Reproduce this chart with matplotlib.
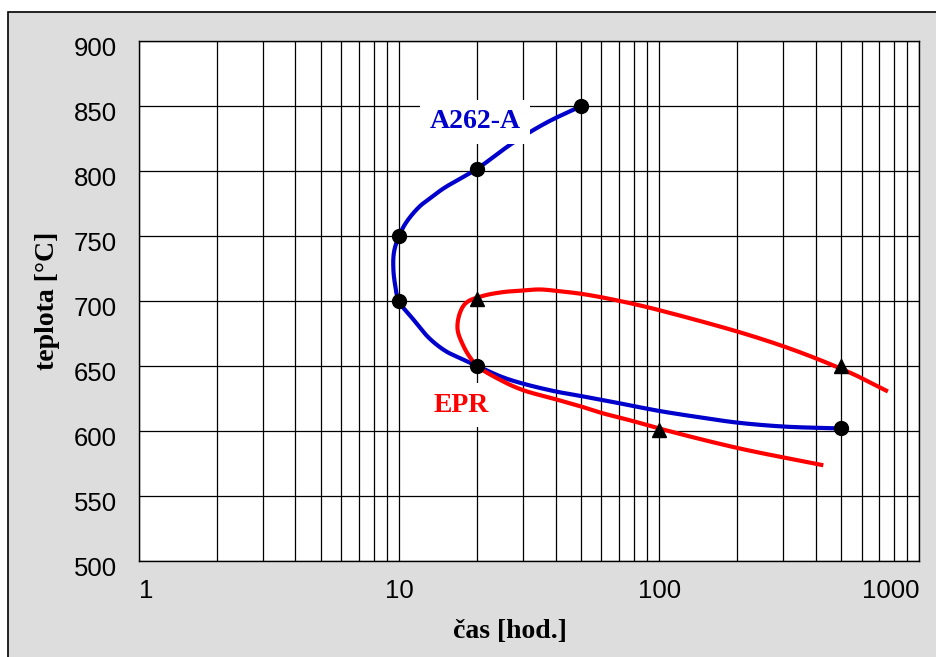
import matplotlib
matplotlib.use("Agg")
import matplotlib.pyplot as plt
import matplotlib.transforms as mtransforms
from matplotlib.patches import Rectangle
from matplotlib.ticker import LogLocator, FixedLocator, NullFormatter
import numpy as np

# body curves (time in hours, temperature in C)
blue_t = [50, 37, 27.5, 20, 14.9, 13.25, 12, 10.7, 10, 9.58, 9.52, 9.68, 10,
          11.3, 13, 15, 17, 20, 25, 30, 40, 50, 70, 100, 150, 200, 300, 500]
blue_T = [850, 837.5, 822, 802, 787, 779.5, 772.8, 761, 750, 738, 725, 712,
          700, 686.5, 672, 662, 656.5, 650, 641.5, 636.5, 630.5, 627, 621.5,
          615.5, 610, 606.5, 603.5, 602]

red_t = [745, 590, 500, 400, 300, 200, 100, 80, 70, 60, 50, 42, 34.8, 30.1,
         25.2, 21, 18.2, 17.2, 16.8, 17.7, 18.8, 20, 25, 30, 40, 50, 60, 70,
         80, 100, 200, 420]
red_T = [631.2, 641.5, 648, 656, 665.3, 676.6, 693.1, 697.8, 700.3, 703, 705.7,
         707.5, 709, 708.2, 707, 704, 699, 691.5, 678.5, 665.5, 656.5, 650,
         638.5, 631.5, 624.5, 619, 614, 610.5, 607.5, 602, 587, 574]

# measured points
a262_t = [50, 20, 10, 10, 20, 500]
a262_T = [850, 802, 750, 700, 650, 602]
epr_t = [20, 500, 100]
epr_T = [702, 650, 601]

x_ticks = [1, 10, 100, 1000]
y_ticks = [500, 550, 600, 650, 700, 750, 800, 850, 900]

SX, SY = 260.2, 1.3  # px per decade / px per degree, to smooth in screen space


def smooth(t, T, n=30, alpha=0.5):
    # centripetal Catmull-Rom through the read points
    P = np.column_stack([np.log10(t) * SX, np.asarray(T, float) * SY])
    P = np.vstack([2 * P[0] - P[1], P, 2 * P[-1] - P[-2]])
    out = []
    for i in range(1, len(P) - 2):
        p0, p1, p2, p3 = P[i - 1:i + 3]
        t0 = 0.0
        t1 = t0 + np.linalg.norm(p1 - p0) ** alpha
        t2 = t1 + np.linalg.norm(p2 - p1) ** alpha
        t3 = t2 + np.linalg.norm(p3 - p2) ** alpha
        u = np.linspace(t1, t2, n, endpoint=False)[:, None]
        a1 = (t1 - u) / (t1 - t0) * p0 + (u - t0) / (t1 - t0) * p1
        a2 = (t2 - u) / (t2 - t1) * p1 + (u - t1) / (t2 - t1) * p2
        a3 = (t3 - u) / (t3 - t2) * p2 + (u - t2) / (t3 - t2) * p3
        b1 = (t2 - u) / (t2 - t0) * a1 + (u - t0) / (t2 - t0) * a2
        b2 = (t3 - u) / (t3 - t1) * a2 + (u - t1) / (t3 - t1) * a3
        out.append((t2 - u) / (t2 - t1) * b1 + (u - t1) / (t2 - t1) * b2)
    out.append(P[-2][None])
    C = np.vstack(out)
    return 10 ** (C[:, 0] / SX), C[:, 1] / SY


W, H = 936, 657
fig = plt.figure(figsize=(W / 100, H / 100), dpi=100, facecolor="white")
fig.patches.append(Rectangle((8 / W, -0.05), 1.1, 1 - 12 / H + 0.05,
                             transform=fig.transFigure, facecolor="#dddddd",
                             edgecolor="black", linewidth=1.2, zorder=-10))

ax = fig.add_axes([138.7 / W, 1 - 561 / H, (919.3 - 138.7) / W, (561 - 41.3) / H])
ax.set_facecolor("white")

bx, by = smooth(blue_t, blue_T)
rx, ry = smooth(red_t, red_T)
ax.plot(bx, by, color="#0000cc", lw=3, zorder=3)
ax.plot(rx, ry, color="#ff0000", lw=3, zorder=3)
ax.plot(a262_t, a262_T, "o", color="black", ms=10, zorder=5)
ax.plot(epr_t, epr_T, "^", color="black", ms=10, zorder=5)

ax.set_xscale("log")
ax.set_xlim(1, 1000)
ax.set_ylim(500, 900)
ax.xaxis.set_major_locator(FixedLocator(x_ticks))
ax.xaxis.set_minor_locator(LogLocator(base=10, subs=np.arange(2, 10)))
ax.xaxis.set_minor_formatter(NullFormatter())
ax.set_xticklabels([str(v) for v in x_ticks])
ax.set_yticks(y_ticks)
ax.set_yticklabels([str(v) for v in y_ticks])
ax.grid(True, which="both", axis="x", color="black", lw=0.9)
ax.grid(True, which="major", axis="y", color="black", lw=0.9)
ax.set_axisbelow(True)
ax.tick_params(which="both", length=0)
ax.tick_params(axis="y", pad=15.5)
ax.tick_params(axis="x", pad=13)
for sp in ax.spines.values():
    sp.set_color("black")
    sp.set_linewidth(1)

for lab in ax.get_xticklabels() + ax.get_yticklabels():
    lab.set_fontfamily("Liberation Sans")
    lab.set_fontsize(18.5)
xl = ax.get_xticklabels()
xl[0].set_ha("left")
xl[-1].set_ha("right")
shift = mtransforms.ScaledTranslation(0, -4 / 72, fig.dpi_scale_trans)
for lab in ax.get_yticklabels():
    lab.set_transform(lab.get_transform() + shift)

lbl = dict(family="Liberation Serif", weight="bold", size=20)
fig.text(47 / W, 1 - 301 / H, "teplota [°C]", rotation=90, ha="center", va="center", **lbl)
fig.text(510 / W, 1 - 632 / H, "čas [hod.]", ha="center", va="center", **lbl)

box = dict(facecolor="white", edgecolor="none", boxstyle="square,pad=0.35")
ax.text(19.6, 838, "A262-A", color="#0000cc", ha="center", va="center",
        bbox=box, zorder=4, **lbl)
ax.text(17.3, 620, "EPR", color="#ff0000", ha="center", va="center",
        bbox=box, zorder=4, **lbl)

fig.savefig("out.png", dpi=100, facecolor="white")
